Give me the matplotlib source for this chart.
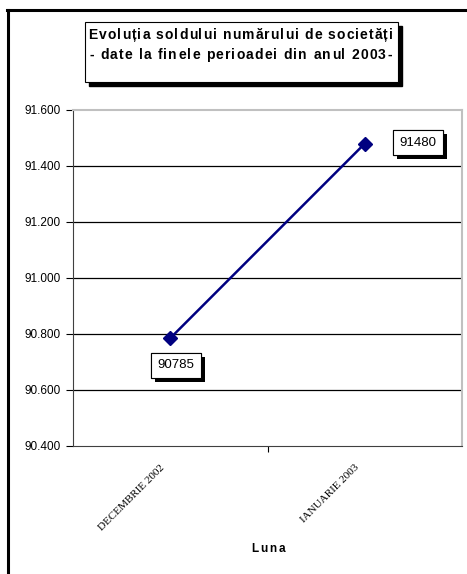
import matplotlib
matplotlib.use("Agg")
import matplotlib.pyplot as plt
from matplotlib.patches import Rectangle
import matplotlib.patheffects as pe

categories = ["DECEMBRIE 2002", "IANUARIE 2003"]
values = [90785, 91480]
yticks = [90400, 90600, 90800, 91000, 91200, 91400, 91600]
title_lines = ["Evoluția soldului numărului de societăți",
               "- date la finele perioadei din anul 2003-"]
xlabel = "Luna"

W, H = 467, 574
fig = plt.figure(figsize=(W / 100, H / 100), dpi=100)
fig.patch.set_facecolor("white")
renderer = fig.canvas.get_renderer()


def fx(px):
    return px / W


def fy(py):
    return 1 - py / H


def spaced_text(xc, ybase, s, target_w=None, spacing=0.0, **kw):
    """Draw text char by char (pixel coords, y from top), letter-spaced."""
    widths = []
    for ch in s:
        t = fig.text(0, 0, ch, **kw)
        if ch == " ":
            t.set_text("a a")
            w_full = t.get_window_extent(renderer).width
            t.set_text("aa")
            w = w_full - t.get_window_extent(renderer).width
        else:
            w = t.get_window_extent(renderer).width
        t.remove()
        widths.append(w)
    nat = sum(widths)
    if target_w is not None and len(s) > 1:
        spacing = (target_w - nat) / (len(s) - 1)
    total = nat + spacing * (len(s) - 1)
    xpos = xc - total / 2
    for ch, w in zip(s, widths):
        if ch != " ":
            fig.text(fx(xpos), fy(ybase), ch, ha="left", va="baseline", **kw)
        xpos += w + spacing


# outer frame lines (top and left)
fig.add_artist(plt.Line2D([fx(7), fx(467)], [fy(10), fy(10)], color="black", lw=2.2))
fig.add_artist(plt.Line2D([fx(8), fx(8)], [fy(10), fy(574)], color="black", lw=2.2))

# axes
L, T, R, B = 73, 110, 462, 446
ax = fig.add_axes([fx(L), fy(B), fx(R - L), (B - T) / H])
x = list(range(len(categories)))
ax.plot(x, values, color="#000080", lw=1.8, marker="D", markersize=7,
        markerfacecolor="#000080", markeredgecolor="#000080", zorder=3)
ax.set_xlim(-0.5, len(categories) - 0.5)
ax.set_ylim(yticks[0], yticks[-1])
ax.set_yticks(yticks)
ax.set_yticklabels([f"{v:,}".replace(",", ".") for v in yticks],
                   fontname="Liberation Sans", fontsize=8.5)
for v in yticks[1:-1]:
    ax.axhline(v, color="black", lw=0.9, zorder=1)
ax.spines["top"].set_color("#c0c0c0")
ax.spines["right"].set_color("#c0c0c0")
ax.spines["top"].set_linewidth(1.5)
ax.spines["right"].set_linewidth(1.5)
ax.spines["left"].set_color("#404040")
ax.spines["bottom"].set_color("#404040")
ax.tick_params(axis="y", length=5, width=0.8, pad=4, color="black")
ax.set_xticks([0.5])
ax.set_xticklabels([""])
ax.tick_params(axis="x", length=4, width=0.8, direction="out", color="black")
for i, c in enumerate(categories):
    ax.annotate(c, xy=(i, yticks[0]), xycoords="data",
                xytext=(-10, -17), textcoords="offset pixels",
                rotation=45, ha="right", va="top", rotation_mode="anchor",
                fontname="Liberation Serif", fontsize=8)

spaced_text(268, 552, xlabel, spacing=2.0, fontname="Liberation Sans",
            fontweight="bold", fontsize=8.5)

# data labels
offsets = [(6, -27), (53, 1)]
for i, v in enumerate(values):
    t = ax.annotate(str(v), xy=(i, v), xytext=offsets[i], textcoords="offset pixels",
                    ha="center", va="center", fontname="Liberation Sans", fontsize=9.5,
                    bbox=dict(boxstyle="square,pad=0.5", fc="white", ec="black", lw=0.8))
    t.get_bbox_patch().set_path_effects([pe.withSimplePatchShadow(offset=(3, -3),
                                         shadow_rgbFace="black", alpha=1.0), pe.Normal()])

# title box
bx0, by0, bx1, by1 = 85, 22, 398, 82
shadow = Rectangle((fx(bx0 + 4), fy(by1 + 4)), fx(bx1 - bx0), (by1 - by0) / H,
                   transform=fig.transFigure, fc="black", ec="black", zorder=5)
box = Rectangle((fx(bx0), fy(by1)), fx(bx1 - bx0), (by1 - by0) / H,
                transform=fig.transFigure, fc="white", ec="black", lw=0.8, zorder=6)
fig.add_artist(shadow)
fig.add_artist(box)
spaced_text((bx0 + bx1) / 2 - 1, 39, title_lines[0], target_w=304,
            fontname="Liberation Sans", fontweight="bold", fontsize=10, zorder=7)
spaced_text((bx0 + bx1) / 2 - 1, 59, title_lines[1], target_w=302,
            fontname="Liberation Sans", fontweight="bold", fontsize=10, zorder=7)

fig.savefig("out.png", dpi=100)
